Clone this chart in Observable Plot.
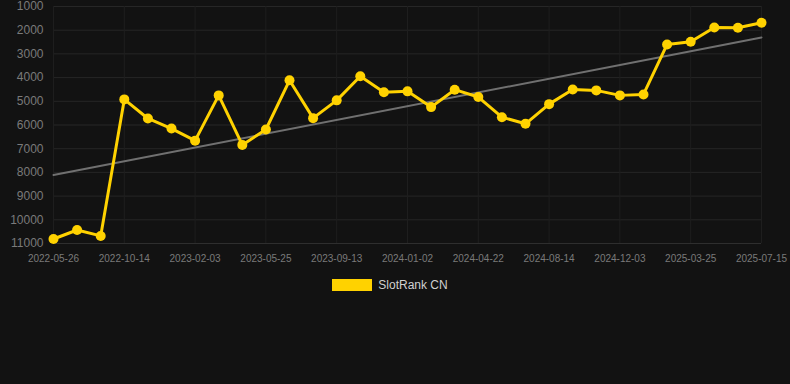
<!DOCTYPE html>
<html>
<head>
<meta charset="utf-8">
<script src="https://cdn.jsdelivr.net/npm/d3@7"></script>
<script src="https://cdn.jsdelivr.net/npm/@observablehq/plot@0.6"></script>
<style>
  html, body { margin: 0; padding: 0; background: #121212; width: 790px; height: 384px; overflow: hidden; font-family: Arial, "Liberation Sans", sans-serif; }
  #legend { display: flex; justify-content: center; align-items: center; margin-top: 8px; padding-right: 10px; }
  #legend .sw { width: 40px; height: 12px; background: #FFD200; margin-right: 6px; }
  #legend .lb { color: #d0d0d0; font-size: 12px; }
</style>
</head>
<body>
<div id="chart"></div>
<div id="legend"><div class="sw"></div><div class="lb">SlotRank CN</div></div>
<script>
const seriesName = "SlotRank CN";
const tickLabels = ["2022-05-26","2022-10-14","2023-02-03","2023-05-25","2023-09-13","2024-01-02","2024-04-22","2024-08-14","2024-12-03","2025-03-25","2025-07-15"];
const ranks = [10810, 10430, 10680, 4920, 5725, 6150, 6660, 4750, 6840, 6190, 4115, 5710, 4960, 3945, 4620, 4580, 5245, 4510, 4820, 5670, 5950, 5120, 4500, 4540, 4750, 4710, 2600, 2490, 1885, 1900, 1685];
const yTicks = [1000, 2000, 3000, 4000, 5000, 6000, 7000, 8000, 9000, 10000, 11000];

const data = ranks.map((v, i) => ({i, v}));
const xTicks = tickLabels.map((_, k) => k * 3);

const chart = Plot.plot({
  width: 790,
  height: 270,
  marginLeft: 53,
  marginRight: 29,
  marginTop: 6,
  marginBottom: 27,
  style: {background: "#121212", fontFamily: "Arial, 'Liberation Sans', sans-serif"},
  x: {type: "linear", domain: [0, 30], ticks: xTicks, tickFormat: d => tickLabels[d / 3], label: null},
  y: {domain: [1000, 11000], reverse: true, ticks: yTicks, tickFormat: d => String(d), label: null},
  marks: [
    Plot.ruleY(yTicks, {stroke: "#262626", strokeWidth: 1}),
    Plot.ruleX(xTicks, {stroke: "#1e1e1e", strokeWidth: 1}),
    Plot.ruleY([11000], {stroke: "#2e2e2e", strokeWidth: 1}),
    Plot.axisY({ticks: yTicks, tickSize: 0, tickPadding: 10, fontSize: 12, color: "#7a7a7a", tickFormat: d => String(d), label: null}),
    Plot.axisX({ticks: xTicks, tickSize: 0, tickPadding: 11, fontSize: 10, color: "#7a7a7a", tickFormat: d => tickLabels[d / 3], label: null}),
    Plot.linearRegressionY(data, {x: "i", y: "v", ci: 0, stroke: "#707070", strokeWidth: 2}),
    Plot.line(data, {x: "i", y: "v", stroke: "#FFD200", strokeWidth: 3, strokeLinejoin: "round"}),
    Plot.dot(data, {x: "i", y: "v", r: 5, fill: "#FFD200", stroke: "none"})
  ]
});
document.getElementById("chart").appendChild(chart);
</script>
</body>
</html>
